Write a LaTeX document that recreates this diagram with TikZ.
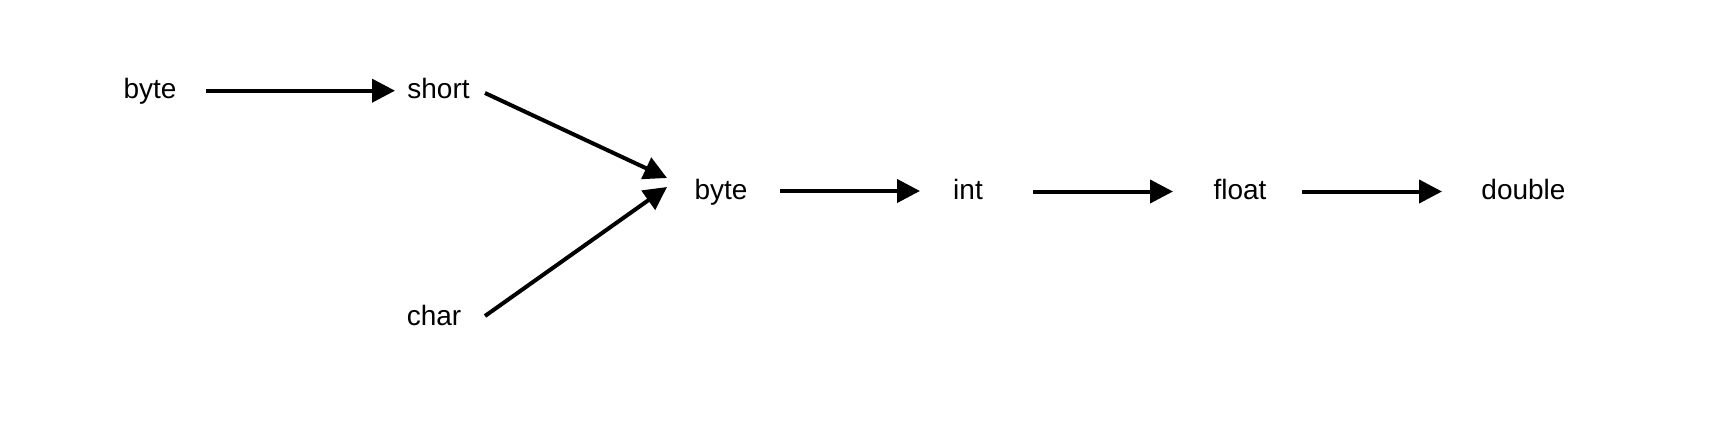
\documentclass[tikz,border=0pt]{standalone}
\usepackage{fontspec}
\setmainfont{Liberation Sans}
\usetikzlibrary{arrows.meta}
\begin{document}
\begin{tikzpicture}[x=1pt,y=-1pt,
  lbl/.style={anchor=base,inner sep=0pt,font=\fontsize{28}{32}\selectfont},
  arr/.style={line width=4pt,-{Triangle[length=23pt,width=23pt]}}]
\useasboundingbox (0,0) rectangle (1716,428);
\node[lbl] (byteA) at (150,99) {byte};
\node[lbl] (short) at (438.5,99) {short};
\node[lbl] (char) at (434,325) {char};
\node[lbl] (byteB) at (721,199) {byte};
\node[lbl] (int) at (968,199) {int};
\node[lbl] (float) at (1240,199) {float};
\node[lbl] (double) at (1523.5,199) {double};
\draw[arr] ([shift={(56,-8.3)}]byteA.base) -- ([shift={(-43.5,-8.3)}]short.base);
\draw[arr] ([shift={(46.5,-6)}]short.base) -- ([shift={(-54,-21)}]byteB.base);
\draw[arr] ([shift={(51,-9)}]char.base) -- ([shift={(-54,-12)}]byteB.base);
\draw[arr] ([shift={(59,-8)}]byteB.base) -- ([shift={(-48,-8)}]int.base);
\draw[arr] ([shift={(65,-7.5)}]int.base) -- ([shift={(-67,-7.5)}]float.base);
\draw[arr] ([shift={(62,-7.5)}]float.base) -- ([shift={(-81.5,-7.5)}]double.base);
\end{tikzpicture}
\end{document}
